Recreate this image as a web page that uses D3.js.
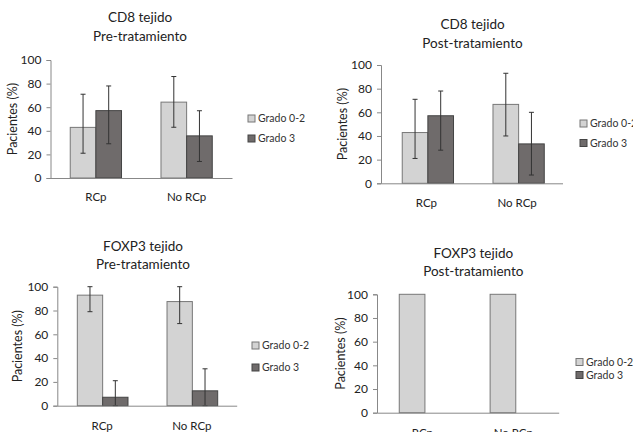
<!DOCTYPE html>
<html><head><meta charset="utf-8">
<script src="https://cdn.jsdelivr.net/npm/d3@7"></script>
<style>body{margin:0;background:#fff}svg{display:block}</style>
</head><body>
<svg id="c" width="633" height="432"></svg>
<script>
const categories = ["RCp", "No RCp"];
const seriesNames = ["Grado 0-2", "Grado 3"];
const yTicks = [0, 20, 40, 60, 80, 100];

const titles1 = ["CD8 tejido", "Pre-tratamiento"];
const cd8PreG02 = [42.9, 64.3];
const cd8PreG3 = [57.1, 35.7];
const cd8PreErrG02 = [[21, 71], [43, 86]];
const cd8PreErrG3 = [[29, 78], [14, 57]];

const titles2 = ["CD8 tejido", "Post-tratamiento"];
const cd8PostG02 = [42.9, 66.7];
const cd8PostG3 = [57.1, 33.3];
const cd8PostErrG02 = [[21, 71], [40, 93]];
const cd8PostErrG3 = [[28, 78], [7, 60]];

const titles3 = ["FOXP3 tejido", "Pre-tratamiento"];
const foxPreG02 = [92.9, 87.5];
const foxPreG3 = [7.1, 12.5];
const foxPreErrG02 = [[79, 100], [69, 100]];
const foxPreErrG3 = [[0, 21], [0, 31]];

const titles4 = ["FOXP3 tejido", "Post-tratamiento"];
const foxPostG02 = [100, 100];
const foxPostG3 = [0, 0];

const fills = ["#d3d3d3", "#6f6b6b"];
const strokes = ["#777", "#444"];
const FONT = "Lato, 'Open Sans', sans-serif";

const svg = d3.select("#c");

function panel(p) {
  const g = svg.append("g");
  const x0 = d3.scaleBand().domain(categories).range([p.left, p.right]).padding(0);
  const groupW = x0.bandwidth() * 0.565;
  const x1 = d3.scaleBand().domain(seriesNames).range([0, groupW]).padding(0);
  const y = d3.scaleLinear().domain([0, 100]).range([p.y0, p.y100]);

  g.selectAll("text.title").data(p.titles).join("text")
    .attr("x", p.tx).attr("y", (d, i) => p.ty + i * p.tdy)
    .attr("text-anchor", "middle").attr("font-family", FONT).attr("font-size", 13.5)
    .attr("fill", "#222").text(d => d);

  const rows = [];
  categories.forEach((c, ci) => {
    seriesNames.forEach((s, si) => {
      rows.push({c, s, si, v: p.values[si][ci], err: p.errs ? p.errs[si][ci] : null});
    });
  });
  const off = (x0.bandwidth() - groupW) / 2 + p.shift;
  g.selectAll("rect.bar").data(rows.filter(r => r.v > 0)).join("rect")
    .attr("x", r => x0(r.c) + off + x1(r.s))
    .attr("width", x1.bandwidth())
    .attr("y", r => y(r.v))
    .attr("height", r => y(0) - y(r.v))
    .attr("fill", r => fills[r.si]).attr("stroke", r => strokes[r.si]).attr("stroke-width", 1);

  const eb = rows.filter(r => r.err);
  const cx = r => x0(r.c) + off + x1(r.s) + x1.bandwidth() / 2;
  g.selectAll("line.ev").data(eb).join("line")
    .attr("x1", cx).attr("x2", cx).attr("y1", r => y(r.err[0])).attr("y2", r => y(r.err[1]))
    .attr("stroke", "#333").attr("stroke-width", 1);
  [0, 1].forEach(k => {
    g.selectAll("line.cap" + k).data(eb).join("line")
      .attr("x1", r => cx(r) - 2.5).attr("x2", r => cx(r) + 2.5)
      .attr("y1", r => y(r.err[k])).attr("y2", r => y(r.err[k]))
      .attr("stroke", "#333").attr("stroke-width", 1);
  });

  const ya = g.append("g").attr("transform", `translate(${p.left},0)`)
    .call(d3.axisLeft(y).tickValues(yTicks).tickSize(4).tickPadding(5));
  ya.select(".domain").attr("stroke", "#888");
  ya.selectAll(".tick line").attr("stroke", "#888");
  ya.selectAll("text").attr("font-family", FONT).attr("font-size", 12).attr("fill", "#222");

  const xa = g.append("g").attr("transform", `translate(0,${p.y0})`)
    .call(d3.axisBottom(x0).tickSize(0).tickPadding(p.xpad));
  xa.select(".domain").attr("stroke", "#888");
  xa.selectAll("text").attr("font-family", FONT).attr("font-size", 11.5).attr("fill", "#222");

  g.append("text")
    .attr("transform", `translate(${p.ylx},${(p.y0 + p.y100) / 2}) rotate(-90)`)
    .attr("text-anchor", "middle").attr("font-family", FONT).attr("font-size", 12.5)
    .attr("fill", "#222").text("Pacientes (%)");

  const lg = g.selectAll("g.leg").data(seriesNames).join("g")
    .attr("transform", (d, i) => `translate(${p.lx},${p.ly + i * p.ldy})`);
  lg.append("rect").attr("x", 0).attr("y", -6).attr("width", 7).attr("height", 7)
    .attr("fill", (d, i) => fills[i]).attr("stroke", (d, i) => strokes[i]);
  lg.append("text").attr("x", 10).attr("y", 0).attr("dy", "0.1em")
    .attr("font-family", FONT).attr("font-size", 10.5).attr("fill", "#333").text(d => d);
}

panel({titles: titles1, values: [cd8PreG02, cd8PreG3], errs: [cd8PreErrG02, cd8PreErrG3],
  left: 50.5, right: 232, y0: 178, y100: 60, shift: 0, tx: 140, ty: 22, tdy: 19,
  ylx: 17, xpad: 15, lx: 248, ly: 121, ldy: 20});
panel({titles: titles2, values: [cd8PostG02, cd8PostG3], errs: [cd8PostErrG02, cd8PostErrG3],
  left: 381, right: 562.5, y0: 183.3, y100: 65, shift: 1.5, tx: 472.5, ty: 29, tdy: 19,
  ylx: 347, xpad: 16, lx: 580, ly: 126, ldy: 19.5});
panel({titles: titles3, values: [foxPreG02, foxPreG3], errs: [foxPreErrG02, foxPreErrG3],
  left: 57.3, right: 236.7, y0: 405.7, y100: 286.7, shift: 0.5, tx: 143, ty: 251, tdy: 18,
  ylx: 22, xpad: 16, lx: 252, ly: 348, ldy: 22});
panel({titles: titles4, values: [foxPostG02, foxPostG3], errs: null,
  left: 377, right: 558.7, y0: 412.7, y100: 294.3, shift: 2.5, tx: 473.3, ty: 257.5, tdy: 18,
  ylx: 345, xpad: 16, lx: 576, ly: 364.5, ldy: 13});
</script>
</body></html>
